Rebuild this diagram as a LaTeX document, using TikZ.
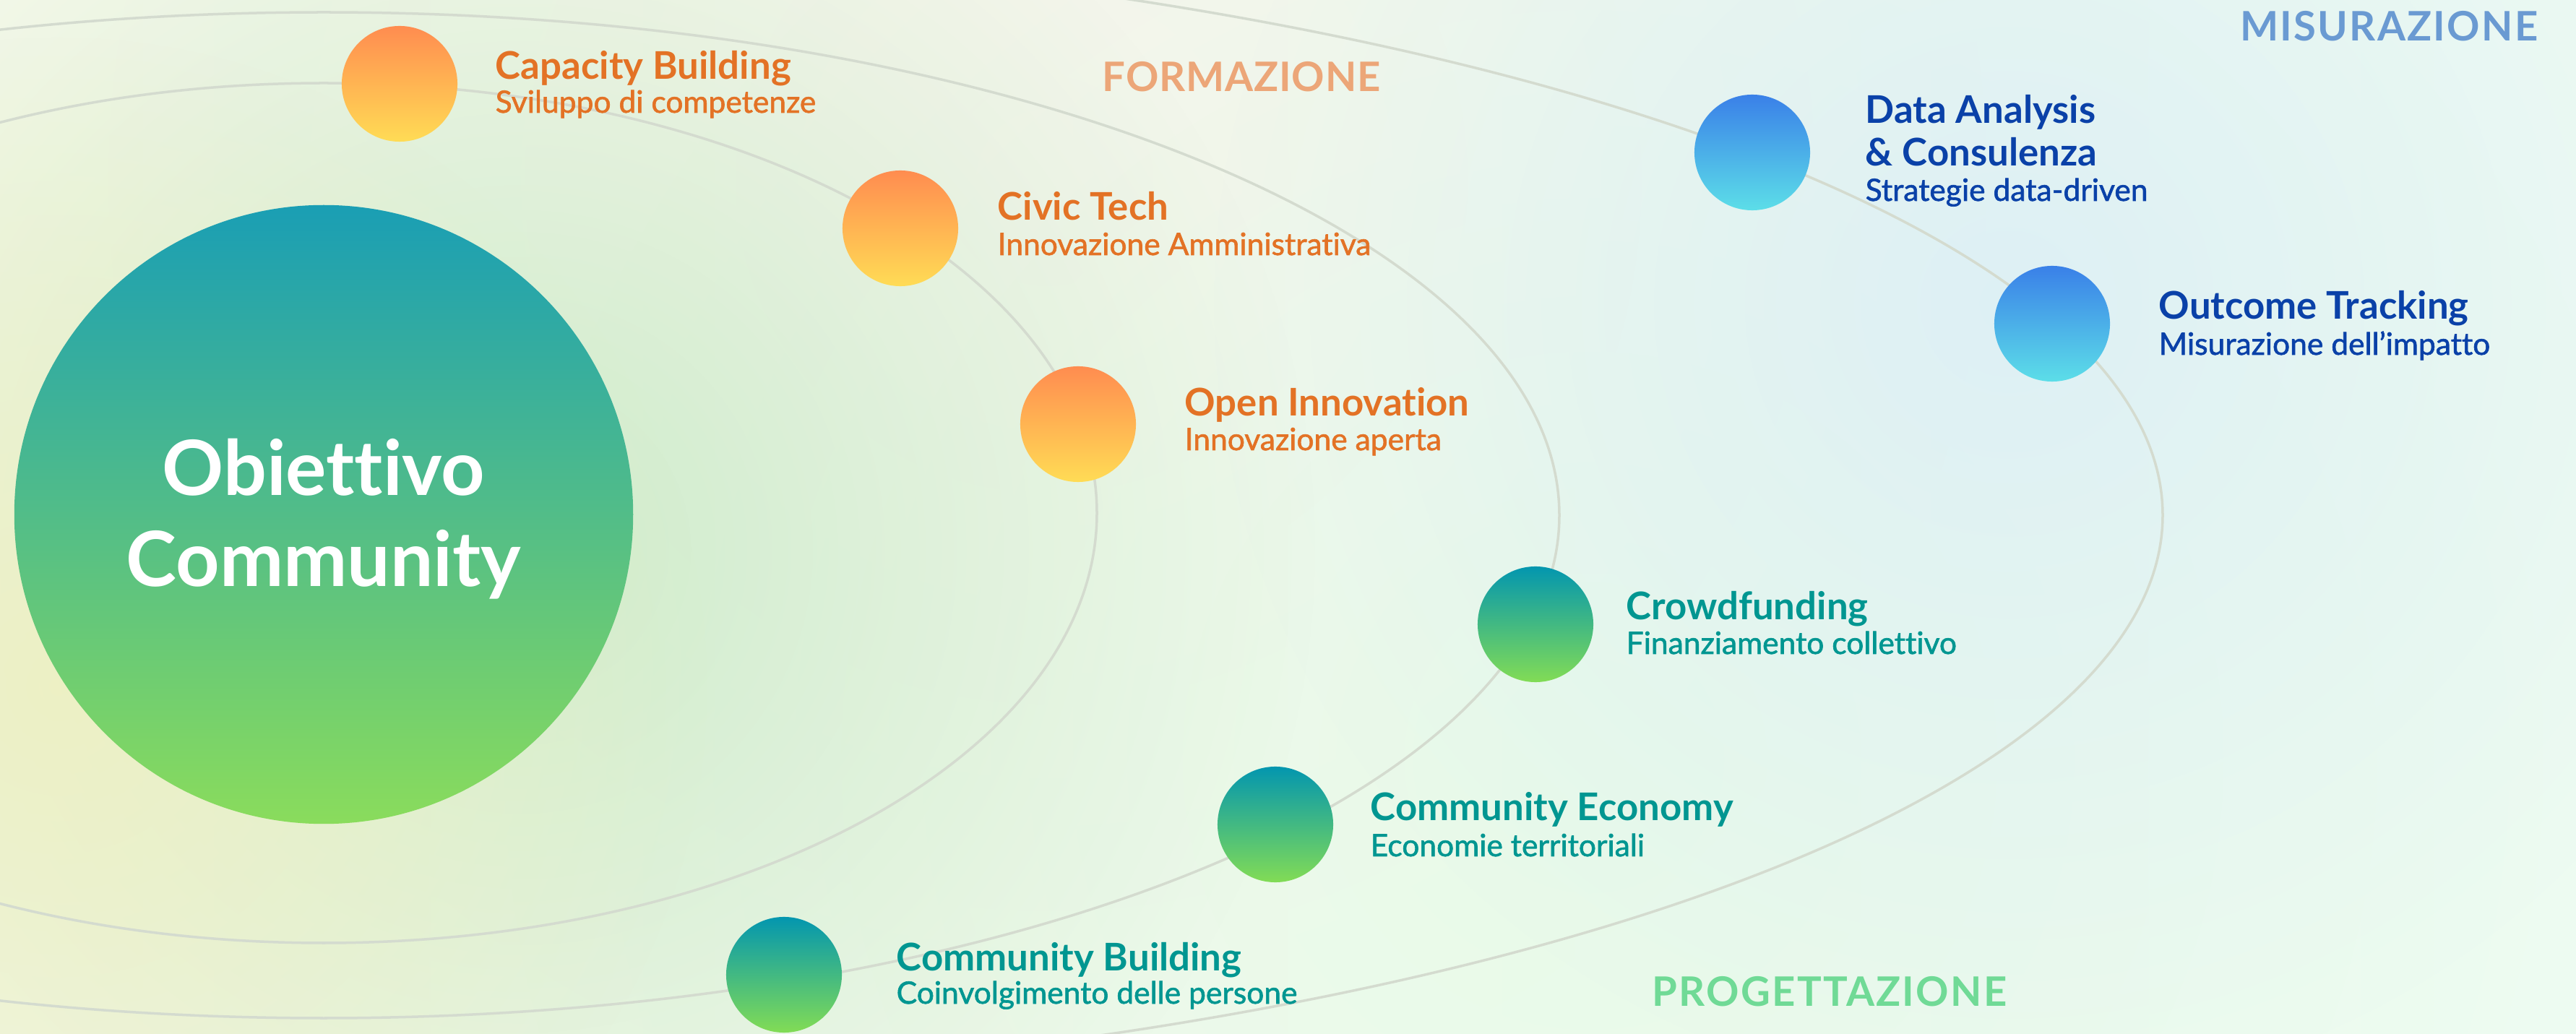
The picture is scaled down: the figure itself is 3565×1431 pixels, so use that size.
\documentclass[tikz,border=0pt]{standalone}
\usepackage{fontspec}
\setmainfont{Lato}[Ligatures=NoCommon]
\newfontfamily\subf{Lato}[FakeBold=1.5, Ligatures=NoCommon]
\newfontfamily\sectf{Lato Bold}[LetterSpace=4]
\newfontfamily\sectfb{Lato Bold}[LetterSpace=1.5]
\usetikzlibrary{fadings}
\definecolor{bgL}{HTML}{F4F8E9}
\definecolor{bgR}{HTML}{EEFBF2}
\definecolor{warmglow}{HTML}{F8F4EC}
\definecolor{greenglow}{HTML}{C8EAC6}
\definecolor{yellowglow}{HTML}{EEF0C2}
\definecolor{blueglow}{HTML}{DCEFF6}
\definecolor{mintglow}{HTML}{E6FBE8}
\definecolor{orbitc}{HTML}{D4DBCF}
\definecolor{mainTop}{HTML}{1A9EB4}
\definecolor{mainBot}{HTML}{8ADC5C}
\definecolor{oTop}{HTML}{FF8C50}
\definecolor{oBot}{HTML}{FFDC55}
\definecolor{bTop}{HTML}{3A80E8}
\definecolor{bBot}{HTML}{5CDEE8}
\definecolor{gTop}{HTML}{0396AF}
\definecolor{gBot}{HTML}{82DC55}
\definecolor{orangeT}{HTML}{E37225}
\definecolor{blueT}{HTML}{0A41A8}
\definecolor{tealT}{HTML}{009691}
\definecolor{formC}{HTML}{ECA678}
\definecolor{misC}{HTML}{6A9AD2}
\definecolor{progC}{HTML}{70DA96}
\tikzfading[name=glowfade, inner color=transparent!0, outer color=transparent!100]
\tikzset{
  orbit/.style={draw=orbitc, line width=0.035cm},
  bubble/.style={circle, minimum size=1.6cm, inner sep=0pt, draw=none},
  orangeb/.style={bubble, top color=oTop, bottom color=oBot},
  blueb/.style={bubble, top color=bTop, bottom color=bBot},
  greenb/.style={bubble, top color=gTop, bottom color=gBot},
  ttltext/.style={anchor=base west, inner sep=0pt, font=\bfseries\fontsize{15}{18}\selectfont},
  subtext/.style={anchor=base west, inner sep=0pt, font=\subf\fontsize{12.1}{15}\selectfont},
  secttext/.style={anchor=base west, inner sep=0pt, font=\sectf\fontsize{16}{19}\selectfont},
  maintext/.style={anchor=base, inner sep=0pt, text=white, font=\bfseries\fontsize{30}{36}\selectfont},
  glow/.style={fill=#1, path fading=glowfade}
}
\begin{document}
\begin{tikzpicture}[x=0.01cm, y=-0.01cm]
\useasboundingbox (0,0) rectangle (3565,1431);
\begin{scope}
\clip (0,0) rectangle (3565,1431);
% background
\shade[left color=bgL, right color=bgR] (0,0) rectangle (3565,1431);
\fill[glow=warmglow, fill opacity=0.9] (1450,250) circle[radius=1300];
\fill[glow=mintglow, fill opacity=0.8] (2200,1050) circle[radius=1500];
\fill[glow=greenglow, fill opacity=0.85] (720,760) circle[radius=1100];
\fill[glow=yellowglow, fill opacity=0.9] (80,950) circle[radius=900];
\fill[glow=blueglow, fill opacity=0.9] (2780,420) circle[radius=1100];
% orbits
\draw[orbit] (448,710) ellipse [x radius=1070, y radius=595];
\draw[orbit] (448,713) ellipse [x radius=1710, y radius=696];
\draw[orbit] (448,713) ellipse [x radius=2545, y radius=794];
\end{scope}

% central circle
\node[circle, minimum size=8.56cm, inner sep=0pt, top color=mainTop, bottom color=mainBot] (main) at (448,712) {};
\node[maintext] (mainA) at (448,686) {Obiettivo};
\node[maintext] (mainB) at (448,812) {Community};

% section labels
\node[secttext, font=\sectfb\fontsize{16}{19}\selectfont, text=formC] (formaz) at (1525,127) {FORMAZIONE};
\node[secttext, anchor=base east, text=misC] (misur) at (3513,57) {MISURAZIONE};
\node[secttext, text=progC] (proget) at (2286,1392) {PROGETTAZIONE};

% formazione
\node[orangeb] (cap) at (553,116) {};
\node[ttltext, text=orangeT] (capT) at (685,110) {Capacity Building};
\node[subtext, text=orangeT] (capS) at (685,156) {Sviluppo di competenze};

\node[orangeb] (civ) at (1246,316) {};
\node[ttltext, text=orangeT] (civT) at (1380,305) {Civic Tech};
\node[subtext, text=orangeT] (civS) at (1380,353) {Innovazione Amministrativa};

\node[orangeb] (opn) at (1492,587) {};
\node[ttltext, text=orangeT] (opnT) at (1639,576) {Open Innovation};
\node[subtext, text=orangeT] (opnS) at (1639,623) {Innovazione aperta};

% misurazione
\node[blueb] (dat) at (2425,211) {};
\node[ttltext, text=blueT] (datT) at (2581,171) {Data Analysis};
\node[ttltext, text=blueT] (datT2) at (2581,230) {\& Consulenza};
\node[subtext, text=blueT] (datS) at (2581,278) {Strategie data-driven};

\node[blueb] (out) at (2840,448) {};
\node[ttltext, text=blueT] (outT) at (2987,442) {Outcome Tracking};
\node[subtext, text=blueT] (outS) at (2987,491) {Misurazione dell’impatto};

% progettazione
\node[greenb] (crd) at (2125,864) {};
\node[ttltext, text=tealT] (crdT) at (2250,858) {Crowdfunding};
\node[subtext, text=tealT] (crdS) at (2250,905) {Finanziamento collettivo};

\node[greenb] (eco) at (1765,1141) {};
\node[ttltext, text=tealT] (ecoT) at (1896,1136) {Community Economy};
\node[subtext, text=tealT] (ecoS) at (1896,1185) {Economie territoriali};

\node[greenb] (cbd) at (1085,1349) {};
\node[ttltext, text=tealT] (cbdT) at (1240,1343) {Community Building};
\node[subtext, text=tealT] (cbdS) at (1240,1389) {Coinvolgimento delle persone};
\end{tikzpicture}
\end{document}
